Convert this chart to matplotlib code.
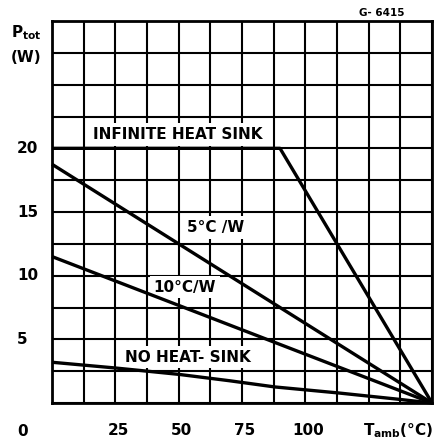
import numpy as np
import matplotlib.pyplot as plt

plt.rcParams['font.family'] = 'DejaVu Sans'
plt.rcParams['font.weight'] = 'bold'
plt.rcParams['mathtext.fontset'] = 'custom'
plt.rcParams['mathtext.rm'] = 'DejaVu Sans:bold'
plt.rcParams['mathtext.default'] = 'rm'

# curves (Tamb in degC, Ptot in W)
t_inf = [0, 90, 150]
p_inf = [20, 20, 0]
t_5cw = [0, 150]
p_5cw = [18.75, 0]
t_10cw = [0, 150]
p_10cw = [11.5, 0]
t_nohs = [0, 25, 50, 70, 88, 113, 136, 150]
p_nohs = [3.2, 2.75, 2.25, 1.75, 1.26, 0.79, 0.31, 0]

xtick_vals = [25, 50, 75, 100]
ytick_vals = [5, 10, 15, 20]

W, H = 439, 448
fig = plt.figure(figsize=(W / 100, H / 100), dpi=100)
ax = fig.add_axes([52 / W, 1 - 403 / H, 380 / W, 382 / H])
ax.set_xlim(0, 150)
ax.set_ylim(0, 30)

# grid: 12 x 12 cells
ax.set_xticks(np.arange(0, 150.1, 12.5))
ax.set_yticks(np.arange(0, 30.1, 2.5))
ax.tick_params(length=0, labelbottom=False, labelleft=False)
ax.grid(True, color='black', lw=1.5, zorder=1)
ax.set_axisbelow(True)
for s in ax.spines.values():
    s.set_linewidth(2)

for t, p in [(t_inf, p_inf), (t_5cw, p_5cw), (t_10cw, p_10cw), (t_nohs, p_nohs)]:
    ax.plot(t, p, color='black', lw=2.4, solid_capstyle='butt', zorder=5, clip_on=False)

box = dict(boxstyle='square,pad=0.25', facecolor='white', edgecolor='none')
ax.text(49.5, 21.1, 'INFINITE HEAT SINK', fontsize=11, ha='center', va='center', bbox=box, zorder=4)
ax.text(64.5, 13.8, '5°C /W', fontsize=11, ha='center', va='center', bbox=box, zorder=4)
ax.text(52.5, 9.1, '10°C/W', fontsize=11, ha='center', va='center', bbox=box, zorder=4)
ax.text(53.5, 3.6, 'NO HEAT- SINK', fontsize=11, ha='center', va='center', bbox=box, zorder=4)

# tick labels placed like the datasheet
for v in xtick_vals:
    ax.text(v + 1.2, -2.15, str(v), fontsize=11, ha='center', va='center', clip_on=False)
for v in ytick_vals:
    fig.text(17 / W, 1 - (403 - v / 2.5 * 31.83) / H, str(v), fontsize=11,
             ha='left', va='center')
fig.text(23 / W, 1 - 431 / H, '0', fontsize=11, ha='center', va='center')
fig.text(398 / W, 1 - 431 / H, r'T$_{amb}$(°C)', fontsize=11, ha='center', va='center')
fig.text(26 / W, 1 - 33 / H, r'P$_{tot}$', fontsize=11, ha='center', va='center')
fig.text(26 / W, 1 - 57 / H, '(W)', fontsize=11, ha='center', va='center')
fig.text(382 / W, 1 - 13 / H, 'G- 6415', fontsize=7.5, ha='center', va='center')

fig.savefig('out.png', dpi=100)
